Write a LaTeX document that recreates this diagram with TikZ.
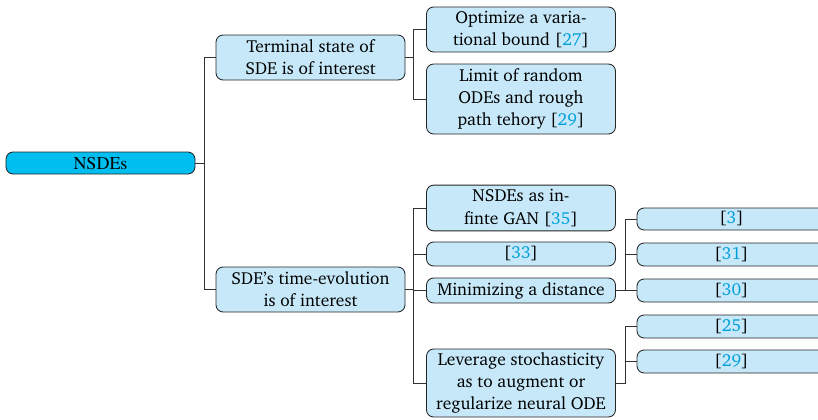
\documentclass[tikz,border=0pt]{standalone}
\usepackage[T1]{fontenc}
\usepackage{charter}
\definecolor{rootfill}{RGB}{0,190,240}
\definecolor{boxfill}{RGB}{198,232,248}
\definecolor{citecol}{RGB}{0,160,220}
\definecolor{wire}{RGB}{50,50,50}
\newcommand{\cit}[1]{[\textcolor{citecol}{#1}]}
\tikzset{
  box/.style={draw=black!85, fill=boxfill, rounded corners=5pt, line width=0.6pt,
    minimum width=132.3pt, align=center, inner sep=0pt,
    font=\fontsize{12.2}{15.5}\selectfont},
  rootbox/.style={box, fill=rootfill, font=\fontencoding{T1}\fontfamily{ptm}\fontsize{12.6}{14}\selectfont},
  link/.style={draw=wire, line width=0.6pt},
}
\begin{document}
\begin{tikzpicture}[x=0.7pt,y=-0.7pt]
\useasboundingbox (0,0) rectangle (818,420);
\clip (0,0) rectangle (818,420);

% root
\node[rootbox, minimum height=15.4pt] (root) at (100.5,163) {NSDEs};

% second level
\node[box, minimum height=31.5pt] (term) at (310.5,57.5) {Terminal state of\\SDE is of interest};
\node[box, minimum height=31.5pt] (evol) at (310.5,289.5) {SDE's time-evolution\\is of interest};

% third level, terminal state
\node[box, minimum height=31.5pt] (varb) at (521,29.5) {Optimize a varia-\\tional bound \cit{27}};
\node[box, minimum height=49pt] (rode) at (521,99) {Limit of random\\ODEs and rough\\path tehory \cit{29}};

% third level, time evolution
\node[box, minimum height=32pt] (gan) at (521,208) {NSDEs as in-\\finte GAN \cit{35}};
\node[box, minimum height=16.8pt] (c33) at (521,254) {\cit{33}};
\node[box, minimum height=17.5pt] (dist) at (521,290.5) {Minimizing a distance};
\node[box, minimum height=47.6pt] (lev) at (521,383) {Leverage stochasticity\\as to augment or\\regularize neural ODE};

% fourth level
\node[box, minimum height=15.4pt] (c3) at (731.5,219) {\cit{3}};
\node[box, minimum height=16.1pt] (c31) at (731.5,254.5) {\cit{31}};
\node[box, minimum height=16.1pt] (c30) at (731.5,290.5) {\cit{30}};
\node[box, minimum height=16.1pt] (c25) at (731.5,326.5) {\cit{25}};
\node[box, minimum height=16.1pt] (c29) at (731.5,361.5) {\cit{29}};

% connectors
\foreach \c in {term,evol} \draw[link] (root.east) -- ++(9,0) |- (\c.west);
\foreach \c in {varb,rode} \draw[link] (term.east) -- ++(8,0) |- (\c.west);
\foreach \c in {gan,c33,dist,lev} \draw[link] (evol.east) -- ++(8,0) |- (\c.west);
\foreach \c in {c3,c31,c30} \draw[link] (dist.east) -- ++(9,0) |- (\c.west);
\foreach \c in {c25,c29} \draw[link] (lev.east) -- ++(9,0) |- (\c.west);
\end{tikzpicture}
\end{document}
